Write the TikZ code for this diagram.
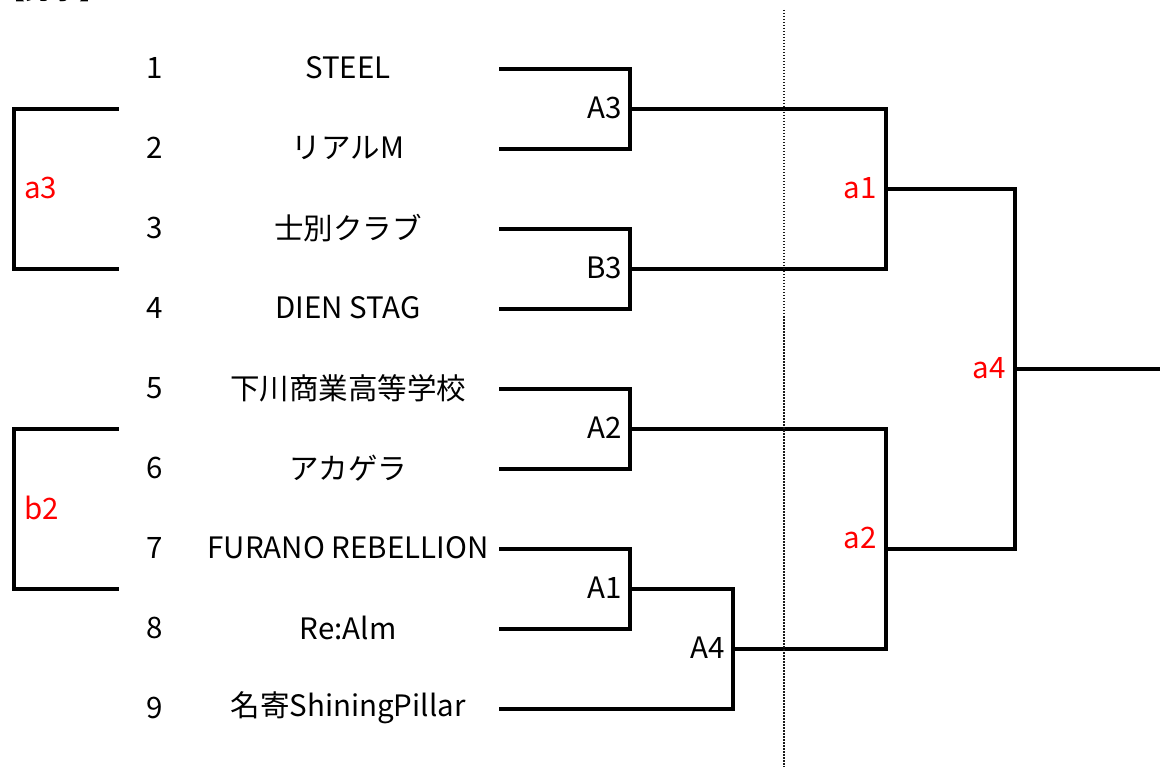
\documentclass[tikz,border=0pt]{standalone}
\usepackage{fontspec}
\setmainfont{Noto Sans CJK JP}
\begin{document}
\begin{tikzpicture}[x=1pt,y=-1pt,
  br/.style={line width=3.2pt, line cap=rect, line join=miter},
  txt/.style={font=\fontsize{29.5}{34}\selectfont, inner sep=0pt, anchor=center},
  rlbl/.style={font=\fontsize{29.5}{34}\selectfont, inner sep=0pt, anchor=east, text=red},
  blbl/.style={font=\fontsize{29.5}{34}\selectfont, inner sep=0pt, anchor=east},
  sep/.style={line width=2.6pt, draw=black!90, dash pattern=on 1.5pt off 1.5pt}]
\useasboundingbox (0,0) rectangle (1160,767);
% title (cut off at top, as in the reference)
\node[font=\fontsize{27}{30}\selectfont, inner sep=0pt, anchor=west] (title) at (-2,-11) {【男子】};
% numbers and names
\foreach \i/\n [evaluate=\i as \yy using 69+80*(\i-1)] in
  {1/STEEL,2/リアルM,3/士別クラブ,4/DIEN STAG,5/下川商業高等学校,6/アカゲラ,7/FURANO REBELLION,8/Re:Alm,9/名寄ShiningPillar}{
  \node[txt] (num\i) at (155,\yy-1) {\i};
  \node[txt] (name\i) at (348,\yy-1) {\n};
  \coordinate (L\i) at (501,\yy);
}
% junctions
\coordinate (jA3) at (630,109);
\coordinate (jB3) at (630,269);
\coordinate (jA2) at (630,429);
\coordinate (jA1) at (630,589);
\coordinate (jA4) at (733,649);
\coordinate (ja1) at (886,189);
\coordinate (ja2) at (886,549);
\coordinate (ja4) at (1015,369);
\coordinate (fin) at (1164,369);
% bracket lines
\draw[br] (L1) -| (jA3) |- (L2);
\draw[br] (L3) -| (jB3) |- (L4);
\draw[br] (L5) -| (jA2) |- (L6);
\draw[br] (L7) -| (jA1) |- (L8);
\draw[br] (jA1) -| (jA4) |- (L9);
\draw[br] (jA3) -| (ja1) |- (jB3);
\draw[br] (jA2) -| (ja2) |- (jA4);
\draw[br] (ja1) -| (ja4) |- (ja2);
\draw[br] (ja4) -- (fin);
% left brackets
\coordinate (a3t) at (117,109);
\coordinate (a3m) at (14,189);
\coordinate (a3b) at (117,269);
\coordinate (b2t) at (117,429);
\coordinate (b2m) at (14,509);
\coordinate (b2b) at (117,589);
\draw[br] (a3t) -| (a3m) |- (a3b);
\draw[br] (b2t) -| (b2m) |- (b2b);
% labels
\node[blbl] (lA3) at (622,108) {A3};
\node[blbl] (lB3) at (622,268) {B3};
\node[blbl] (lA2) at (622,428) {A2};
\node[blbl] (lA1) at (622,588) {A1};
\node[blbl] (lA4) at (725,648) {A4};
\node[rlbl] (la1) at (877,188) {a1};
\node[rlbl] (la2) at (877,538) {a2};
\node[rlbl] (la4) at (1006,368) {a4};
\node[rlbl, anchor=west] (la3) at (24,188) {a3};
\node[rlbl, anchor=west] (lb2) at (24,508) {b2};
% dotted separator
\coordinate (st) at (784,10);
\coordinate (sb) at (784,767);
\draw[sep] (st) -- (sb);
\end{tikzpicture}
\end{document}
